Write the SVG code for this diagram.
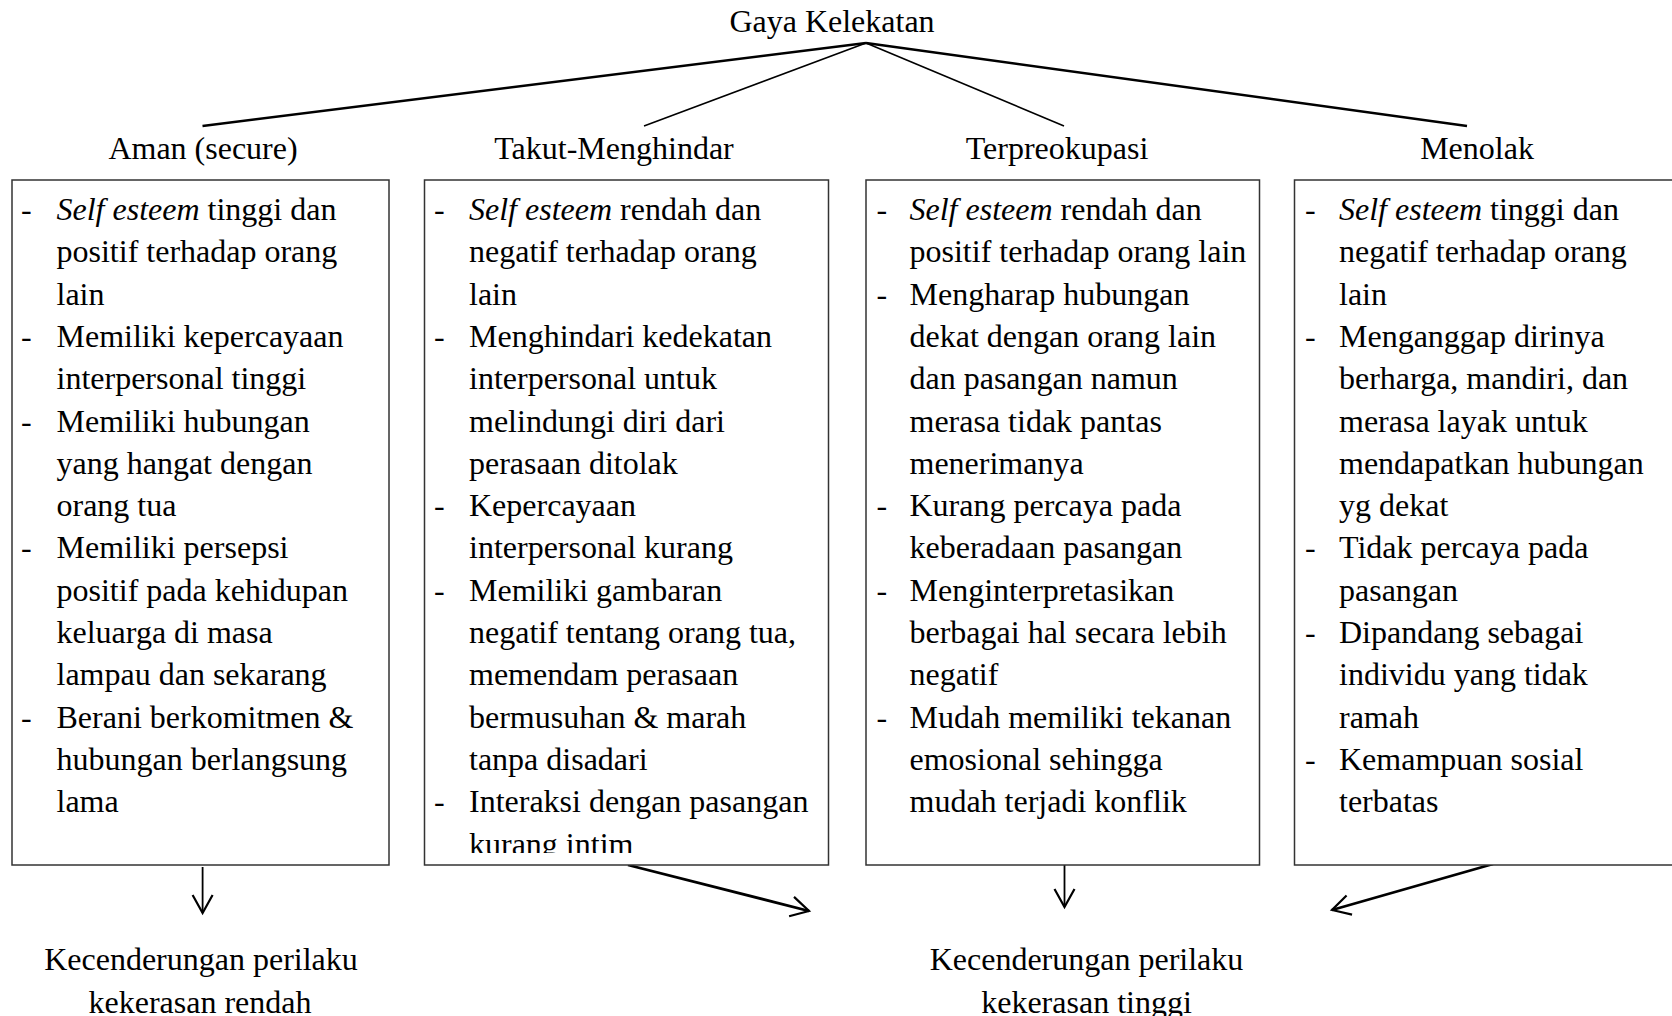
<svg xmlns="http://www.w3.org/2000/svg" width="1672" height="1016" viewBox="0 0 1672 1016">
<style>
  text { font-family: "Liberation Serif", "Times New Roman", serif; font-size: 32px; fill: #000; }
  .c { text-anchor: middle; }
  .i { font-style: italic; }
  .box { fill: #fff; stroke: #333; stroke-width: 1.5; }
  .ln { fill: none; stroke: #000; }
</style>
<defs>
  <marker id="ah" markerUnits="userSpaceOnUse" markerWidth="40" markerHeight="40" viewBox="-20 -20 40 40" refX="0" refY="0" orient="auto">
    <path d="M -18 -10 L 0 0 L -18 10" fill="none" stroke="#000" stroke-width="2.2"/>
  </marker>
  <clipPath id="clip2"><rect x="424" y="180" width="405" height="673"/></clipPath>
</defs>

<g id="title"><text class="c" x="832" y="32">Gaya Kelekatan</text></g>

<g id="connectors">
  <line class="ln" x1="866" y1="43" x2="202.5" y2="126" stroke-width="2.4"/>
  <line class="ln" x1="866" y1="43" x2="644" y2="126" stroke-width="1.6"/>
  <line class="ln" x1="866" y1="43" x2="1064" y2="126" stroke-width="1.6"/>
  <line class="ln" x1="866" y1="43" x2="1467" y2="126" stroke-width="2.4"/>
  <line class="ln" x1="202.6" y1="867" x2="202.6" y2="913" stroke-width="1.8" marker-end="url(#ah)"/>
  <line class="ln" x1="628" y1="865" x2="809" y2="911" stroke-width="2.8" marker-end="url(#ah)"/>
  <line class="ln" x1="1064.5" y1="863" x2="1064.5" y2="907" stroke-width="1.8" marker-end="url(#ah)"/>
  <line class="ln" x1="1493" y1="864" x2="1332" y2="910" stroke-width="2.8" marker-end="url(#ah)"/>
</g>

<g id="aman">
  <text class="c" x="203" y="159">Aman (secure)</text>
  <rect class="box" x="12" y="180" width="377" height="685"/>
  <text x="21"><tspan y="220">-</tspan><tspan x="21" y="346.9">-</tspan><tspan x="21" y="431.5">-</tspan><tspan x="21" y="558.4">-</tspan><tspan x="21" y="727.6">-</tspan></text>
  <text>
    <tspan x="56.5" y="220" class="i">Self esteem</tspan><tspan> tinggi dan</tspan>
    <tspan x="56.5" y="262.3">positif terhadap orang</tspan>
    <tspan x="56.5" y="304.6">lain</tspan>
    <tspan x="56.5" y="346.9">Memiliki kepercayaan</tspan>
    <tspan x="56.5" y="389.2">interpersonal tinggi</tspan>
    <tspan x="56.5" y="431.5">Memiliki hubungan</tspan>
    <tspan x="56.5" y="473.8">yang hangat dengan</tspan>
    <tspan x="56.5" y="516.1">orang tua</tspan>
    <tspan x="56.5" y="558.4">Memiliki persepsi</tspan>
    <tspan x="56.5" y="600.7">positif pada kehidupan</tspan>
    <tspan x="56.5" y="643">keluarga di masa</tspan>
    <tspan x="56.5" y="685.3">lampau dan sekarang</tspan>
    <tspan x="56.5" y="727.6">Berani berkomitmen &amp;</tspan>
    <tspan x="56.5" y="769.9">hubungan berlangsung</tspan>
    <tspan x="56.5" y="812.2">lama</tspan>
  </text>
</g>

<g id="takut">
  <text class="c" x="614" y="159">Takut-Menghindar</text>
  <rect class="box" x="424.5" y="180" width="404" height="685"/>
  <g clip-path="url(#clip2)">
  <text x="434"><tspan y="220">-</tspan><tspan x="434" y="346.9">-</tspan><tspan x="434" y="516.1">-</tspan><tspan x="434" y="600.7">-</tspan><tspan x="434" y="812.2">-</tspan></text>
  <text>
    <tspan x="469" y="220" class="i">Self esteem</tspan><tspan> rendah dan</tspan>
    <tspan x="469" y="262.3">negatif terhadap orang</tspan>
    <tspan x="469" y="304.6">lain</tspan>
    <tspan x="469" y="346.9">Menghindari kedekatan</tspan>
    <tspan x="469" y="389.2">interpersonal untuk</tspan>
    <tspan x="469" y="431.5">melindungi diri dari</tspan>
    <tspan x="469" y="473.8">perasaan ditolak</tspan>
    <tspan x="469" y="516.1">Kepercayaan</tspan>
    <tspan x="469" y="558.4">interpersonal kurang</tspan>
    <tspan x="469" y="600.7">Memiliki gambaran</tspan>
    <tspan x="469" y="643">negatif tentang orang tua,</tspan>
    <tspan x="469" y="685.3">memendam perasaan</tspan>
    <tspan x="469" y="727.6">bermusuhan &amp; marah</tspan>
    <tspan x="469" y="769.9">tanpa disadari</tspan>
    <tspan x="469" y="812.2">Interaksi dengan pasangan</tspan>
    <tspan x="469" y="855">kurang intim</tspan>
  </text>
  </g>
</g>

<g id="terpreokupasi">
  <text class="c" x="1057" y="159">Terpreokupasi</text>
  <rect class="box" x="866" y="180" width="393.5" height="685"/>
  <text x="876.5"><tspan y="220">-</tspan><tspan x="876.5" y="304.6">-</tspan><tspan x="876.5" y="516.1">-</tspan><tspan x="876.5" y="600.7">-</tspan><tspan x="876.5" y="727.6">-</tspan></text>
  <text>
    <tspan x="909.5" y="220" class="i">Self esteem</tspan><tspan> rendah dan</tspan>
    <tspan x="909.5" y="262.3">positif terhadap orang lain</tspan>
    <tspan x="909.5" y="304.6">Mengharap hubungan</tspan>
    <tspan x="909.5" y="346.9">dekat dengan orang lain</tspan>
    <tspan x="909.5" y="389.2">dan pasangan namun</tspan>
    <tspan x="909.5" y="431.5">merasa tidak pantas</tspan>
    <tspan x="909.5" y="473.8">menerimanya</tspan>
    <tspan x="909.5" y="516.1">Kurang percaya pada</tspan>
    <tspan x="909.5" y="558.4">keberadaan pasangan</tspan>
    <tspan x="909.5" y="600.7">Menginterpretasikan</tspan>
    <tspan x="909.5" y="643">berbagai hal secara lebih</tspan>
    <tspan x="909.5" y="685.3">negatif</tspan>
    <tspan x="909.5" y="727.6">Mudah memiliki tekanan</tspan>
    <tspan x="909.5" y="769.9">emosional sehingga</tspan>
    <tspan x="909.5" y="812.2">mudah terjadi konflik</tspan>
  </text>
</g>

<g id="menolak">
  <text class="c" x="1477" y="159">Menolak</text>
  <rect class="box" x="1294.5" y="180" width="400" height="685"/>
  <text x="1305"><tspan y="220">-</tspan><tspan x="1305" y="346.9">-</tspan><tspan x="1305" y="558.4">-</tspan><tspan x="1305" y="643">-</tspan><tspan x="1305" y="769.9">-</tspan></text>
  <text>
    <tspan x="1339" y="220" class="i">Self esteem</tspan><tspan> tinggi dan</tspan>
    <tspan x="1339" y="262.3">negatif terhadap orang</tspan>
    <tspan x="1339" y="304.6">lain</tspan>
    <tspan x="1339" y="346.9">Menganggap dirinya</tspan>
    <tspan x="1339" y="389.2">berharga, mandiri, dan</tspan>
    <tspan x="1339" y="431.5">merasa layak untuk</tspan>
    <tspan x="1339" y="473.8">mendapatkan hubungan</tspan>
    <tspan x="1339" y="516.1">yg dekat</tspan>
    <tspan x="1339" y="558.4">Tidak percaya pada</tspan>
    <tspan x="1339" y="600.7">pasangan</tspan>
    <tspan x="1339" y="643">Dipandang sebagai</tspan>
    <tspan x="1339" y="685.3">individu yang tidak</tspan>
    <tspan x="1339" y="727.6">ramah</tspan>
    <tspan x="1339" y="769.9">Kemampuan sosial</tspan>
    <tspan x="1339" y="812.2">terbatas</tspan>
  </text>
</g>

<g id="rendah">
  <text class="c" x="201" y="970">Kecenderungan perilaku</text>
  <text class="c" x="200" y="1012.5">kekerasan rendah</text>
</g>

<g id="tinggi">
  <text class="c" x="1086.5" y="970">Kecenderungan perilaku</text>
  <text class="c" x="1086.5" y="1012.5">kekerasan tinggi</text>
</g>
</svg>
